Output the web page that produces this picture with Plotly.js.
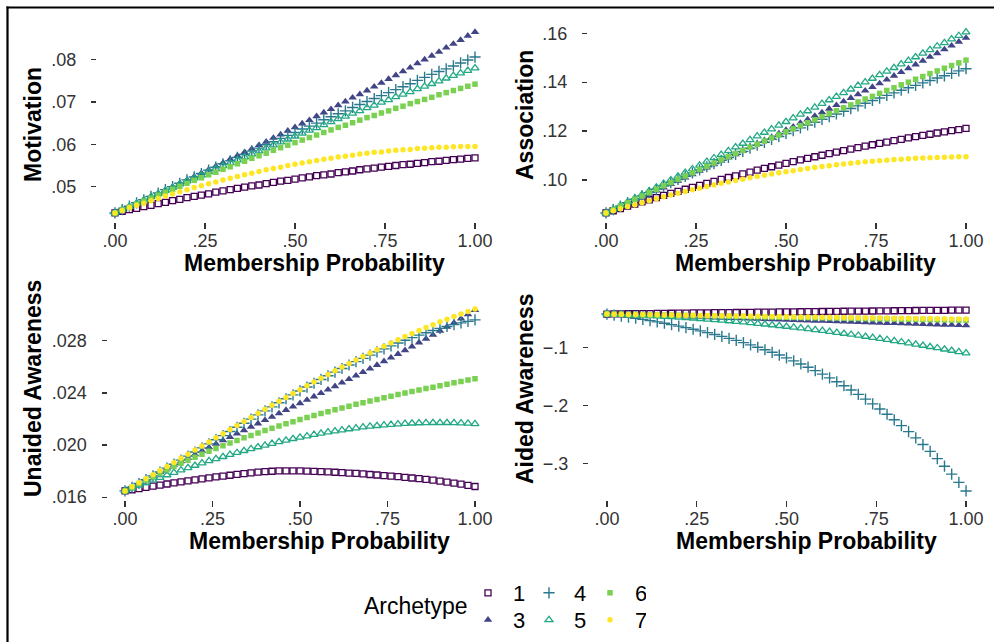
<!DOCTYPE html>
<html><head><meta charset="utf-8">
<script src="https://cdn.plot.ly/plotly-3.0.1.min.js"></script>
<style>html,body{margin:0;padding:0;background:#fff}#chart{width:994px;height:642px}</style>
</head><body><div id="chart"></div>
<script>
// ---------- data ----------
const membershipProbability = [0,.02,.04,.06,.08,.10,.12,.14,.16,.18,.20,.22,.24,.26,.28,.30,.32,.34,.36,.38,.40,.42,.44,.46,.48,.50,.52,.54,.56,.58,.60,.62,.64,.66,.68,.70,.72,.74,.76,.78,.80,.82,.84,.86,.88,.90,.92,.94,.96,.98,1];
const archetypes = ['1','3','4','5','6','7'];

const motivation1 = [.0438,.0442,.0446,.0449,.0453,.0456,.0460,.0463,.0467,.0470,.0474,.0477,.0480,.0483,.0487,.0490,.0493,.0496,.0499,.0502,.0504,.0507,.0510,.0513,.0515,.0518,.0521,.0523,.0526,.0528,.0530,.0533,.0535,.0537,.0540,.0542,.0544,.0546,.0548,.0550,.0552,.0553,.0555,.0557,.0559,.0560,.0562,.0564,.0565,.0567,.0568];
const motivation3 = [.0438,.0446,.0453,.0461,.0469,.0477,.0484,.0492,.0500,.0508,.0516,.0524,.0532,.0540,.0548,.0556,.0565,.0573,.0581,.0589,.0598,.0606,.0615,.0623,.0632,.0640,.0649,.0657,.0666,.0675,.0683,.0692,.0701,.0710,.0718,.0727,.0736,.0745,.0754,.0763,.0772,.0781,.0791,.0800,.0809,.0818,.0828,.0837,.0846,.0856,.0865];
const motivation4 = [.0438,.0446,.0454,.0462,.0469,.0477,.0485,.0493,.0500,.0508,.0516,.0523,.0531,.0539,.0546,.0554,.0561,.0569,.0576,.0584,.0591,.0599,.0606,.0614,.0621,.0628,.0636,.0643,.0650,.0658,.0665,.0672,.0679,.0687,.0694,.0701,.0708,.0715,.0722,.0729,.0736,.0743,.0751,.0758,.0765,.0772,.0778,.0785,.0792,.0799,.0806];
const motivation5 = [.0438,.0446,.0453,.0461,.0468,.0476,.0483,.0491,.0498,.0506,.0513,.0520,.0527,.0535,.0542,.0549,.0556,.0563,.0570,.0577,.0584,.0591,.0598,.0605,.0612,.0619,.0626,.0633,.0639,.0646,.0653,.0660,.0666,.0673,.0679,.0686,.0692,.0699,.0705,.0712,.0718,.0724,.0731,.0737,.0743,.0749,.0756,.0762,.0768,.0774,.0780];
const motivation6 = [.0438,.0445,.0452,.0459,.0466,.0473,.0480,.0487,.0494,.0501,.0508,.0515,.0521,.0528,.0534,.0541,.0547,.0554,.0560,.0567,.0573,.0579,.0586,.0592,.0598,.0604,.0610,.0616,.0622,.0628,.0634,.0640,.0645,.0651,.0657,.0663,.0668,.0674,.0679,.0685,.0690,.0696,.0701,.0706,.0711,.0717,.0722,.0727,.0732,.0737,.0742];
const motivation7 = [.0438,.0444,.0450,.0456,.0461,.0467,.0472,.0478,.0483,.0488,.0493,.0498,.0502,.0507,.0511,.0516,.0520,.0524,.0528,.0532,.0536,.0540,.0543,.0546,.0550,.0553,.0556,.0559,.0562,.0565,.0567,.0570,.0572,.0574,.0577,.0579,.0581,.0582,.0584,.0586,.0587,.0588,.0590,.0591,.0592,.0593,.0593,.0594,.0595,.0595,.0595];

const association1 = [.0865,.0874,.0883,.0893,.0901,.0910,.0919,.0928,.0937,.0945,.0953,.0962,.0970,.0978,.0986,.0994,.1002,.1010,.1017,.1025,.1032,.1040,.1047,.1054,.1061,.1068,.1075,.1082,.1088,.1095,.1101,.1108,.1114,.1120,.1126,.1132,.1138,.1144,.1150,.1155,.1161,.1166,.1172,.1177,.1182,.1187,.1192,.1197,.1202,.1206,.1211];
const association3 = [.0865,.0878,.0891,.0904,.0917,.0930,.0943,.0956,.0969,.0983,.0996,.1010,.1023,.1037,.1050,.1064,.1078,.1091,.1105,.1119,.1133,.1147,.1161,.1175,.1190,.1204,.1218,.1233,.1247,.1262,.1276,.1291,.1306,.1321,.1335,.1350,.1365,.1380,.1395,.1410,.1426,.1441,.1456,.1472,.1487,.1503,.1518,.1534,.1549,.1565,.1581];
const association4 = [.0865,.0879,.0893,.0907,.0921,.0935,.0948,.0962,.0975,.0989,.1002,.1015,.1029,.1041,.1054,.1067,.1080,.1092,.1105,.1117,.1130,.1142,.1154,.1166,.1178,.1190,.1202,.1213,.1225,.1236,.1248,.1259,.1270,.1281,.1292,.1303,.1314,.1325,.1335,.1346,.1356,.1367,.1377,.1387,.1397,.1407,.1417,.1426,.1436,.1446,.1455];
const association5 = [.0865,.0880,.0895,.0910,.0925,.0940,.0955,.0970,.0985,.1000,.1015,.1030,.1045,.1060,.1075,.1090,.1104,.1119,.1134,.1149,.1164,.1179,.1194,.1208,.1223,.1238,.1253,.1268,.1282,.1297,.1312,.1327,.1341,.1356,.1371,.1386,.1400,.1415,.1430,.1444,.1459,.1474,.1488,.1503,.1518,.1532,.1547,.1561,.1576,.1590,.1605];
const association6 = [.0865,.0879,.0893,.0907,.0921,.0934,.0948,.0962,.0976,.0989,.1003,.1016,.1029,.1043,.1056,.1069,.1082,.1095,.1108,.1121,.1134,.1146,.1159,.1172,.1184,.1197,.1209,.1222,.1234,.1246,.1259,.1271,.1283,.1295,.1307,.1319,.1331,.1342,.1354,.1366,.1377,.1389,.1400,.1412,.1423,.1435,.1446,.1457,.1468,.1479,.1490];
const association7 = [.0865,.0874,.0882,.0891,.0899,.0907,.0915,.0923,.0931,.0938,.0946,.0953,.0960,.0966,.0973,.0979,.0986,.0992,.0998,.1003,.1009,.1014,.1019,.1024,.1029,.1034,.1038,.1043,.1047,.1051,.1055,.1058,.1062,.1065,.1068,.1071,.1074,.1077,.1079,.1081,.1084,.1085,.1087,.1089,.1090,.1091,.1092,.1093,.1094,.1095,.1095];

const unaided1 = [.01648,.01657,.01666,.01675,.01684,.01692,.01701,.01709,.01717,.01725,.01733,.01740,.01748,.01755,.01762,.01768,.01775,.01781,.01787,.01792,.01796,.01799,.01801,.01802,.01802,.01801,.01800,.01798,.01796,.01794,.01791,.01788,.01785,.01782,.01778,.01774,.01770,.01766,.01762,.01757,.01752,.01747,.01742,.01736,.01730,.01723,.01716,.01708,.01700,.01691,.01682];
const unaided3 = [.01648,.01677,.01706,.01735,.01763,.01792,.01819,.01847,.01874,.01901,.01928,.01955,.01982,.02008,.02035,.02061,.02087,.02113,.02139,.02165,.02191,.02216,.02242,.02268,.02294,.02320,.02346,.02372,.02398,.02425,.02451,.02478,.02505,.02532,.02559,.02586,.02614,.02642,.02670,.02698,.02727,.02756,.02786,.02815,.02845,.02876,.02907,.02938,.02970,.03002,.03035];
const unaided4 = [.01648,.01676,.01705,.01734,.01763,.01793,.01823,.01853,.01884,.01915,.01946,.01978,.02009,.02041,.02072,.02104,.02136,.02167,.02199,.02231,.02262,.02293,.02324,.02355,.02385,.02415,.02445,.02474,.02503,.02531,.02559,.02587,.02614,.02640,.02665,.02690,.02715,.02738,.02761,.02783,.02804,.02824,.02843,.02861,.02879,.02895,.02910,.02924,.02937,.02949,.02960];
const unaided5 = [.01648,.01669,.01690,.01710,.01731,.01750,.01770,.01789,.01807,.01825,.01843,.01861,.01878,.01894,.01910,.01926,.01941,.01956,.01971,.01985,.01998,.02011,.02024,.02036,.02048,.02059,.02069,.02080,.02089,.02099,.02107,.02115,.02123,.02130,.02137,.02143,.02148,.02153,.02157,.02161,.02164,.02167,.02169,.02170,.02171,.02171,.02171,.02170,.02168,.02166,.02163];
const unaided6 = [.01648,.01677,.01705,.01732,.01759,.01785,.01811,.01836,.01860,.01884,.01907,.01930,.01952,.01974,.01995,.02015,.02035,.02055,.02074,.02093,.02111,.02128,.02146,.02163,.02179,.02195,.02211,.02226,.02241,.02256,.02270,.02284,.02298,.02312,.02325,.02338,.02350,.02363,.02375,.02387,.02399,.02410,.02422,.02433,.02444,.02455,.02466,.02477,.02487,.02498,.02508];
const unaided7 = [.01648,.01679,.01710,.01741,.01772,.01804,.01835,.01866,.01898,.01930,.01961,.01993,.02024,.02056,.02087,.02119,.02150,.02181,.02212,.02243,.02274,.02305,.02335,.02365,.02395,.02425,.02455,.02484,.02513,.02541,.02570,.02598,.02625,.02653,.02679,.02706,.02732,.02758,.02783,.02807,.02832,.02855,.02879,.02901,.02923,.02945,.02966,.02986,.03006,.03025,.03043];

const aided1 = [-.0424,-.0422,-.0421,-.0419,-.0418,-.0416,-.0415,-.0413,-.0411,-.0410,-.0408,-.0407,-.0405,-.0404,-.0402,-.0401,-.0400,-.0398,-.0397,-.0395,-.0394,-.0392,-.0391,-.0390,-.0388,-.0387,-.0385,-.0384,-.0383,-.0381,-.0380,-.0379,-.0377,-.0376,-.0375,-.0373,-.0372,-.0371,-.0370,-.0368,-.0367,-.0366,-.0365,-.0363,-.0362,-.0361,-.0360,-.0359,-.0357,-.0356,-.0355];
const aided3 = [-.0424,-.0428,-.0432,-.0436,-.0440,-.0444,-.0448,-.0452,-.0456,-.0460,-.0464,-.0468,-.0472,-.0476,-.0480,-.0484,-.0488,-.0492,-.0495,-.0499,-.0503,-.0507,-.0511,-.0515,-.0519,-.0523,-.0527,-.0531,-.0535,-.0539,-.0543,-.0546,-.0550,-.0554,-.0558,-.0562,-.0566,-.0570,-.0574,-.0578,-.0581,-.0585,-.0589,-.0593,-.0597,-.0601,-.0605,-.0608,-.0612,-.0616,-.0620];
const aided4 = [-.0424,-.0441,-.0458,-.0477,-.0496,-.0516,-.0537,-.0559,-.0582,-.0606,-.0631,-.0657,-.0685,-.0713,-.0743,-.0775,-.0807,-.0842,-.0877,-.0915,-.0954,-.0995,-.1038,-.1082,-.1129,-.1178,-.1229,-.1282,-.1338,-.1396,-.1457,-.1521,-.1588,-.1657,-.1730,-.1806,-.1886,-.1969,-.2056,-.2147,-.2242,-.2342,-.2446,-.2554,-.2668,-.2786,-.2910,-.3040,-.3176,-.3318,-.3466];
const aided5 = [-.0424,-.0428,-.0432,-.0437,-.0442,-.0447,-.0453,-.0459,-.0466,-.0473,-.0480,-.0488,-.0496,-.0505,-.0514,-.0523,-.0533,-.0543,-.0553,-.0564,-.0576,-.0587,-.0599,-.0612,-.0625,-.0638,-.0652,-.0666,-.0680,-.0695,-.0710,-.0726,-.0742,-.0758,-.0775,-.0792,-.0810,-.0828,-.0846,-.0865,-.0884,-.0904,-.0924,-.0944,-.0965,-.0986,-.1007,-.1029,-.1051,-.1074,-.1097];
const aided6 = [-.0424,-.0426,-.0428,-.0431,-.0433,-.0435,-.0437,-.0440,-.0442,-.0444,-.0446,-.0448,-.0451,-.0453,-.0455,-.0457,-.0459,-.0461,-.0464,-.0466,-.0468,-.0470,-.0472,-.0474,-.0476,-.0479,-.0481,-.0483,-.0485,-.0487,-.0489,-.0491,-.0493,-.0495,-.0497,-.0500,-.0502,-.0504,-.0506,-.0508,-.0510,-.0512,-.0514,-.0516,-.0518,-.0520,-.0522,-.0524,-.0526,-.0528,-.0530];
const aided7 = [-.0424,-.0426,-.0428,-.0430,-.0432,-.0433,-.0435,-.0437,-.0439,-.0441,-.0443,-.0444,-.0446,-.0448,-.0450,-.0452,-.0454,-.0455,-.0457,-.0459,-.0461,-.0462,-.0464,-.0466,-.0468,-.0469,-.0471,-.0473,-.0474,-.0476,-.0478,-.0479,-.0481,-.0483,-.0484,-.0486,-.0488,-.0489,-.0491,-.0493,-.0494,-.0496,-.0497,-.0499,-.0501,-.0502,-.0504,-.0505,-.0507,-.0508,-.0510];

const xTickVals = [0, .25, .5, .75, 1];
const xTickText = ['.00', '.25', '.50', '.75', '1.00'];
const motivationTickVals = [.05, .06, .07, .08];
const motivationTickText = ['.05', '.06', '.07', '.08'];
const associationTickVals = [.10, .12, .14, .16];
const associationTickText = ['.10', '.12', '.14', '.16'];
const unaidedTickVals = [.016, .020, .024, .028];
const unaidedTickText = ['.016', '.020', '.024', '.028'];
const aidedTickVals = [-.3, -.2, -.1];
const aidedTickText = ['\u2212.3', '\u2212.2', '\u2212.1'];

// ---------- styles ----------
const W = 994, H = 642;
const FONT = 'Liberation Sans, Arial, Helvetica, sans-serif';
const colors = ['#440154', '#414487', '#2A788E', '#22A884', '#7AD151', '#FDE725'];
const symbols = ['square-open', 'triangle-up', 'cross-thin-open', 'triangle-up-open', 'square', 'circle'];
const sizes = [6, 7.5, 8, 7, 5.5, 5.5];
const lineWidths = [1.3, 0, 1.4, 1.3, 0, 0];
const legendRow = ['legend', 'legend2', 'legend', 'legend2', 'legend', 'legend2'];

const px = v => v / W;
const py = v => 1 - v / H;

const panels = [
  {series: [motivation1, motivation3, motivation4, motivation5, motivation6, motivation7], title: 'Motivation',
   x: [97, 493], y: [23, 222], tv: motivationTickVals, tt: motivationTickText, pad: .05,
   xt: [314, 263], yt: [33, 125]},
  {series: [association1, association3, association4, association5, association6, association7], title: 'Association',
   x: [588, 984], y: [23, 222], tv: associationTickVals, tt: associationTickText, pad: .05,
   xt: [805, 263], yt: [525, 115]},
  {series: [unaided1, unaided3, unaided4, unaided5, unaided6, unaided7], title: 'Unaided Awareness',
   x: [107.5, 492.5], y: [300, 500], tv: unaidedTickVals, tt: unaidedTickText, pad: .05,
   xt: [319, 541], yt: [33, 389]},
  {series: [aided1, aided3, aided4, aided5, aided6, aided7], title: 'Aided Awareness',
   x: [589, 984], y: [301, 500], tv: aidedTickVals, tt: aidedTickText, pad: .05,
   xt: [806, 541], yt: [525, 389]}
];

const traces = [];
const layout = {
  width: W, height: H, margin: {l: 0, r: 0, t: 0, b: 0, pad: 0},
  paper_bgcolor: '#fff', plot_bgcolor: '#fff',
  font: {family: FONT, color: '#000'},
  annotations: [], shapes: []
};

panels.forEach((p, i) => {
  const sfx = i === 0 ? '' : String(i + 1);
  let lo = Infinity, hi = -Infinity;
  p.series.forEach(s => s.forEach(v => { lo = Math.min(lo, v); hi = Math.max(hi, v); }));
  const ex = (hi - lo) * p.pad;
  layout['xaxis' + sfx] = {
    domain: [px(p.x[0]), px(p.x[1])], anchor: 'y' + sfx, range: [-0.05, 1.05],
    tickvals: xTickVals, ticktext: xTickText, ticks: 'outside', ticklen: 6, tickwidth: 1.2, tickcolor: '#333',
    showline: false, showgrid: false, zeroline: false, ticklabelstandoff: -4,
    tickfont: {family: FONT, size: 18, color: '#333'}, fixedrange: true
  };
  layout['yaxis' + sfx] = {
    domain: [py(p.y[1]), py(p.y[0])], anchor: 'x' + sfx, range: [lo - ex, hi + ex],
    tickvals: p.tv, ticktext: p.tt, ticks: 'outside', ticklen: 5, tickwidth: 1.2, tickcolor: '#333',
    showline: false, showgrid: false, zeroline: false, ticklabelstandoff: 11,
    tickfont: {family: FONT, size: 18, color: '#333'}, fixedrange: true
  };
  p.series.forEach((s, k) => {
    traces.push({
      type: 'scatter', mode: 'markers', x: membershipProbability, y: s,
      xaxis: 'x' + sfx, yaxis: 'y' + sfx, name: archetypes[k], legendgroup: archetypes[k],
      legend: legendRow[k], showlegend: i === 0, hoverinfo: 'skip',
      marker: {symbol: symbols[k], size: sizes[k], color: colors[k], line: {width: lineWidths[k], color: colors[k]}}
    });
  });
  layout.annotations.push({
    xref: 'paper', yref: 'paper', x: px(p.xt[0]), y: py(p.xt[1]), xanchor: 'center', yanchor: 'middle',
    text: 'Membership Probability', showarrow: false, font: {family: FONT, size: 23, color: '#000', weight: 'bold'}
  });
  layout.annotations.push({
    xref: 'paper', yref: 'paper', x: px(p.yt[0]), y: py(p.yt[1]), xanchor: 'center', yanchor: 'middle',
    text: p.title, textangle: -90, showarrow: false, font: {family: FONT, size: 23, color: '#000', weight: 'bold'}
  });
});

layout.annotations.push({
  xref: 'paper', yref: 'paper', x: px(416), y: py(606), xanchor: 'center', yanchor: 'middle',
  text: 'Archetype', showarrow: false, font: {family: FONT, size: 23, color: '#000'}
});

const legendBase = {
  orientation: 'h', xanchor: 'left', yanchor: 'middle', bgcolor: 'rgba(0,0,0,0)', borderwidth: 0,
  font: {family: FONT, size: 22, color: '#000'}, itemwidth: 40, entrywidth: 6, entrywidthmode: 'pixels',
  itemclick: false, itemdoubleclick: false
};
layout.legend = Object.assign({}, legendBase, {x: px(463), y: py(593)});
layout.legend2 = Object.assign({}, legendBase, {x: px(463), y: py(620)});

layout.shapes.push({type: 'line', xref: 'paper', yref: 'paper', x0: px(7.5), x1: px(7.5), y0: -0.02, y1: py(6.5), line: {color: '#000', width: 2.2}});
layout.shapes.push({type: 'line', xref: 'paper', yref: 'paper', x0: px(6.5), x1: 1.02, y0: py(7.5), y1: py(7.5), line: {color: '#000', width: 2.2}});

Plotly.newPlot('chart', traces, layout, {displayModeBar: false, staticPlot: true});
</script>
</body></html>
